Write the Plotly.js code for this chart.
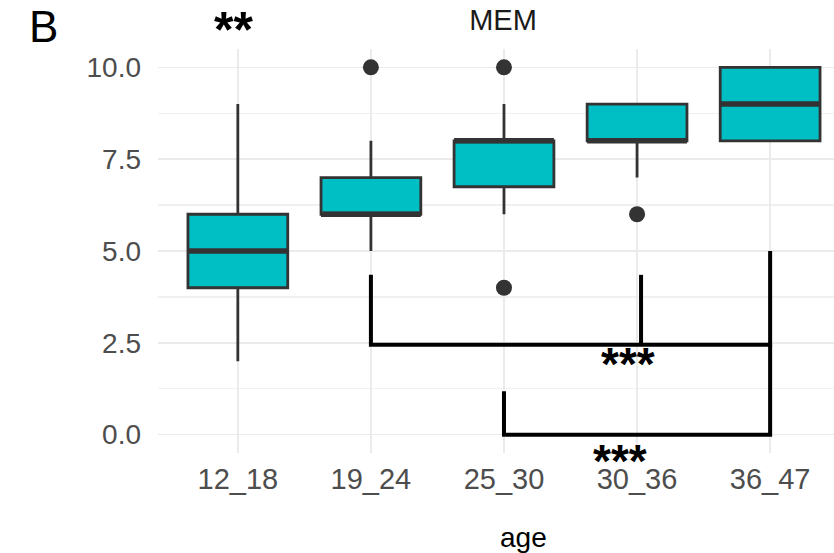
<!DOCTYPE html>
<html>
<head>
<meta charset="utf-8">
<script src="https://cdn.plot.ly/plotly-3.0.1.min.js"></script>
<style>html,body{margin:0;padding:0;background:#fff;}#chart{width:834px;height:553px;}</style>
</head>
<body>
<div id="chart"></div>
<script>
// ---- data ----
const categories = ["12_18", "19_24", "25_30", "30_36", "36_47"];
const lowerWhisker = [2, 5, 6, 7, 8];
const q1 = [4, 6, 6.75, 8, 8];
const median = [5, 6, 8, 8, 9];
const q3 = [6, 7, 8, 9, 10];
const upperWhisker = [9, 8, 9, 9, 10];
const outlierCategory = ["19_24", "25_30", "25_30", "30_36"];
const outlierValue = [10, 10, 4, 6];
const yTickValues = [0, 2.5, 5, 7.5, 10];
const yTickLabels = ["0.0", "2.5", "5.0", "7.5", "10.0"];
// significance brackets: [category index, value] pairs
const bracketUpperX = [1, 1, 4, 4];
const bracketUpperY = [4.35, 2.45, 2.45, 5.0];
const bracketTickX = [3.03, 3.03];
const bracketTickY = [4.35, 2.45];
const bracketLowerX = [2, 2, 4, 4];
const bracketLowerY = [1.18, 0, 0, 2.45];
const sigLabels = ["***", "***", "**"];
const sigLabelX = [2.93, 2.87, 0];

const idx = categories.map((c, i) => i);
const boxWidth = 0.75;
const FONT = "Liberation Sans, Arial, Helvetica, sans-serif";

// median segments from data
const medX = [], medY = [];
idx.forEach(i => { medX.push(i - boxWidth/2, i + boxWidth/2, null); medY.push(median[i], median[i], null); });

const traces = [
  {
    type: "box", x: idx, q1: q1, median: median, q3: q3,
    lowerfence: lowerWhisker, upperfence: upperWhisker,
    width: boxWidth, whiskerwidth: 0,
    fillcolor: "#00BFC4", line: {color: "#333333", width: 2.8},
    boxpoints: false, hoverinfo: "skip", showlegend: false
  },
  {
    type: "scatter", mode: "lines", x: medX, y: medY,
    line: {color: "#333333", width: 5.5}, hoverinfo: "skip", showlegend: false
  },
  {
    type: "scatter", mode: "markers",
    x: outlierCategory.map(c => categories.indexOf(c)), y: outlierValue,
    marker: {color: "#333333", size: 16}, hoverinfo: "skip", showlegend: false
  },
  { type: "scatter", mode: "lines", x: bracketUpperX, y: bracketUpperY,
    line: {color: "#000", width: 4}, hoverinfo: "skip", showlegend: false },
  { type: "scatter", mode: "lines", x: bracketTickX, y: bracketTickY,
    line: {color: "#000", width: 4}, hoverinfo: "skip", showlegend: false },
  { type: "scatter", mode: "lines", x: bracketLowerX, y: bracketLowerY,
    line: {color: "#000", width: 4}, hoverinfo: "skip", showlegend: false }
];

const sigFont = (s) => ({family: FONT, size: s, color: "#000", weight: "bold"});

const layout = {
  width: 834, height: 553,
  margin: {l: 158, r: 0, t: 49, b: 100},
  paper_bgcolor: "#fff", plot_bgcolor: "#fff",
  font: {family: FONT, color: "#4D4D4D", size: 28},
  showlegend: false,
  title: {text: "MEM", x: 503/834, xanchor: "center", xref: "container",
          y: 1 - 20/553, yanchor: "middle", yref: "container",
          font: {family: FONT, size: 29, color: "#1A1A1A"}},
  xaxis: {
    range: [-0.6, 4.48], tickvals: idx, ticktext: categories,
    showgrid: true, gridcolor: "#EBEBEB", gridwidth: 1.6,
    zeroline: false, showline: false, ticks: "", ticklabelstandoff: 6,
    tickfont: {family: FONT, size: 29, color: "#4D4D4D"}, fixedrange: true
  },
  yaxis: {
    range: [-0.5, 10.5], tickvals: yTickValues, ticktext: yTickLabels,
    showgrid: true, gridcolor: "#EBEBEB", gridwidth: 1.6,
    minor: {tickvals: [1.25, 3.75, 6.25, 8.75], showgrid: true, gridcolor: "#F0F0F0", gridwidth: 1.3},
    zeroline: false, showline: false, ticks: "", ticklabelstandoff: 16,
    tickfont: {family: FONT, size: 28, color: "#4D4D4D"}, fixedrange: true
  },
  annotations: [
    {text: "B", xref: "paper", yref: "paper", x: (43-158)/676, y: (453-27)/404,
     xanchor: "center", yanchor: "middle", showarrow: false,
     font: {family: FONT, size: 44, color: "#000"}},
    {text: "age", xref: "paper", yref: "paper", x: (523-158)/676, y: (453-537)/404,
     xanchor: "center", yanchor: "middle", showarrow: false,
     font: {family: FONT, size: 28, color: "#000"}},
    {text: sigLabels[2], xref: "x", yref: "paper", x: sigLabelX[2], y: 453/404,
     xanchor: "center", yanchor: "top", showarrow: false, xshift: -4,
     font: sigFont(50)},
    {text: sigLabels[0], xref: "x", yref: "paper", x: sigLabelX[0], y: (453-364)/404,
     xanchor: "center", yanchor: "middle", showarrow: false,
     font: sigFont(46)},
    {text: sigLabels[1], xref: "x", yref: "paper", x: sigLabelX[1], y: (453-461)/404,
     xanchor: "center", yanchor: "middle", showarrow: false,
     font: sigFont(46)}
  ]
};

Plotly.newPlot("chart", traces, layout, {displayModeBar: false, staticPlot: true});
</script>
</body>
</html>
